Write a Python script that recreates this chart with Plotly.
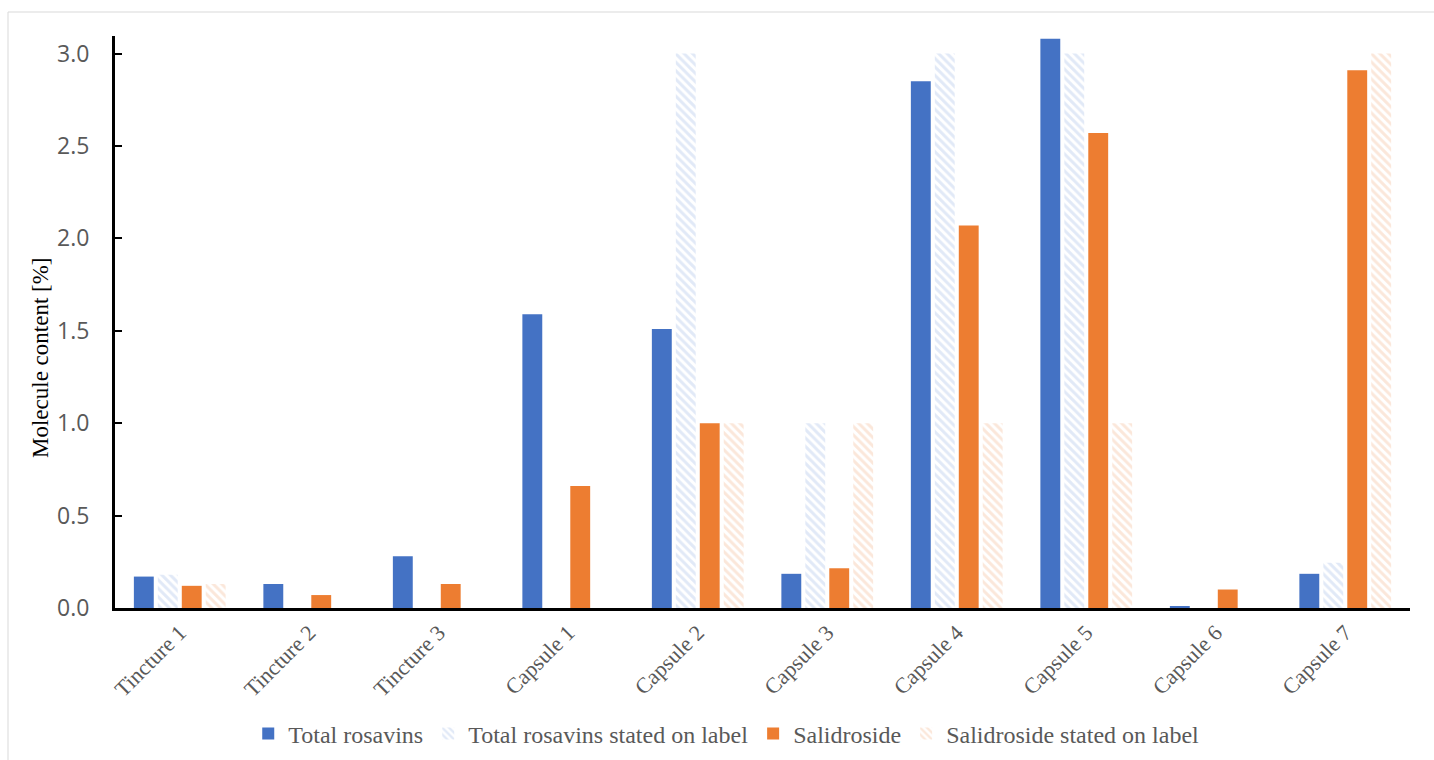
import plotly.graph_objects as go

categories = ["Tincture 1", "Tincture 2", "Tincture 3", "Capsule 1", "Capsule 2",
              "Capsule 3", "Capsule 4", "Capsule 5", "Capsule 6", "Capsule 7"]
total_rosavins = [0.17, 0.13, 0.28, 1.59, 1.51, 0.185, 2.85, 3.08, 0.01, 0.185]
rosavins_label = [0.18, None, None, None, 3.0, 1.0, 3.0, 3.0, None, 0.245]
salidroside = [0.12, 0.07, 0.13, 0.66, 1.0, 0.215, 2.07, 2.57, 0.10, 2.91]
salidroside_label = [0.13, None, None, None, 1.0, 1.0, 1.0, 1.0, None, 3.0]
y_ticks = [0.0, 0.5, 1.0, 1.5, 2.0, 2.5, 3.0]
y_title = "Molecule content [%]"

BLUE = "#4472C4"
ORANGE = "#ED7D31"
LBLUE = "#c3d3ef"
LORANGE = "#f8d0b6"

fig = go.Figure()
fig.add_trace(go.Bar(x=categories, y=total_rosavins, name="Total rosavins",
                     marker=dict(color=BLUE, line=dict(width=0))))
fig.add_trace(go.Bar(x=categories, y=rosavins_label, name="Total rosavins stated on label",
                     marker=dict(color="white", line=dict(width=0),
                                 pattern=dict(shape="\\", fgcolor=LBLUE, bgcolor="white",
                                              size=6, solidity=0.5))))
fig.add_trace(go.Bar(x=categories, y=salidroside, name="Salidroside",
                     marker=dict(color=ORANGE, line=dict(width=0))))
fig.add_trace(go.Bar(x=categories, y=salidroside_label, name="Salidroside stated on label",
                     marker=dict(color="white", line=dict(width=0),
                                 pattern=dict(shape="\\", fgcolor=LORANGE, bgcolor="white",
                                              size=6, solidity=0.5))))

fig.update_layout(
    width=1434, height=760,
    margin=dict(l=115, r=24, t=36, b=152, autoexpand=False),
    paper_bgcolor="white", plot_bgcolor="white",
    barmode="group", bargap=0.26, bargroupgap=0.17,
    showlegend=True,
    legend=dict(orientation="h", x=0.472, xanchor="center",
                yref="container", y=(760 - 734) / 760, yanchor="middle",
                font=dict(family="Liberation Serif", size=24, color="#595959"),
                itemwidth=30, tracegroupgap=0),
    font=dict(family="Liberation Serif"),
    shapes=[dict(type="rect", xref="paper", yref="paper",
                 x0=(8 - 115) / 1295, x1=1.05, y0=-0.3, y1=(608 - 12) / 572,
                 line=dict(color="#d9d9d9", width=1), layer="below")],
    annotations=[dict(text=y_title, textangle=-90, xref="paper", yref="paper",
                      x=(40 - 115) / 1295, y=(608 - 358) / 572,
                      xanchor="center", yanchor="middle", showarrow=False,
                      font=dict(family="Liberation Serif", size=23, color="black"))],
)
fig.update_xaxes(
    showline=True, linecolor="black", linewidth=3, ticks="",
    tickangle=-45, tickfont=dict(family="Liberation Serif", size=22, color="#595959"),
    showgrid=False, automargin=False,
)
fig.update_yaxes(
    range=[0, 3.095], tickvals=y_ticks, tickformat=".1f",
    showline=True, linecolor="black", linewidth=3, ticks="inside", ticklen=7,
    tickwidth=2, tickcolor="black", ticklabelstandoff=18,
    tickfont=dict(family="Open Sans", size=23, color="#595959"),
    showgrid=False, zeroline=False, automargin=False,
)

fig.write_html("out.html")
